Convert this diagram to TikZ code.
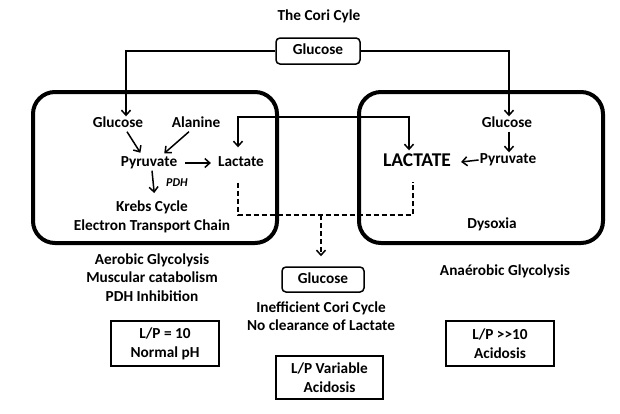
\documentclass[tikz,border=0pt]{standalone}
\usepackage{fontspec}
\setmainfont{Carlito}
\usetikzlibrary{arrows.meta}

\tikzset{
  lbl/.style={font=\bfseries\fontsize{15.3}{18.5}\selectfont, inner sep=1pt, text height=10pt, text depth=3pt},
  txt/.style={font=\bfseries\fontsize{15.3}{18.5}\selectfont, align=center, inner sep=0pt},
  rbox/.style={lbl, draw, rounded corners=4pt, line width=1.5pt},
  cell/.style={draw, line width=2pt, minimum width=108pt, minimum height=45pt, align=center, inner sep=0pt,
    font=\bfseries\fontsize{15.3}{19}\selectfont},
  bigbox/.style={line width=4pt, rounded corners=22pt},
  link/.style={line width=1.5pt},
  arr/.style={link, -{Straight Barb[length=5pt,width=9pt]}},
  dsh/.style={link, dash pattern=on 5pt off 3pt},
}

\begin{document}
\begin{tikzpicture}[x=1pt,y=-1pt]
    \useasboundingbox (0,0) rectangle (620,413);

    % Title and glucose source
    \node[lbl] (title) at (319,17) {The Cori Cyle};
    \node[rbox, minimum width=84pt, minimum height=26pt] (gtop) at (318,51) {Glucose};

    % Compartments
    \draw[bigbox] (33,92) rectangle (277,243);
    \draw[bigbox] (359,92) rectangle (603,243);

    % Left compartment
    \node[lbl] (glcL) at (118,124) {Glucose};
    \node[lbl] (alaL) at (196,124) {Alanine};
    \node[lbl] (pyrL) at (149,163) {Pyruvate};
    \node[lbl] (lacL) at (241,163) {Lactate};
    \node[lbl, font=\bfseries\itshape\fontsize{12}{14}\selectfont] (pdh) at (177,183) {PDH};
    \node[txt] (krb) at (152,217) {Krebs Cycle\\Electron Transport Chain};

    % Right compartment
    \node[lbl] (glcR) at (507,124) {Glucose};
    \node[lbl] (pyrR) at (508,160) {Pyruvate};
    \node[lbl, font=\bfseries\fontsize{19.5}{22}\selectfont] (LAC) at (417,163) {LACTATE};
    \node[lbl] (dys) at (492,225) {Dysoxia};

    % Glucose supply
    \draw[arr] (gtop.west) -| ([xshift=8pt]glcL.north);
    \draw[arr] (gtop.east) -| ([xshift=2pt]glcR.north);

    % Left pathways
    \draw[arr, shorten >=3pt] ([xshift=9pt]glcL.south) -- ([xshift=-7pt]pyrL.north);
    \draw[arr, shorten >=3pt] ([xshift=-7pt]alaL.south) -- ([xshift=13pt]pyrL.north);
    \draw[arr, shorten <=7pt, shorten >=6pt] (pyrL.east) -- (lacL.west);
    \draw[arr, shorten >=8pt] ([xshift=3pt]pyrL.south) -- ([xshift=3pt]krb.north);

    % Right pathways
    \draw[arr] ([xshift=2pt]glcR.south) -- ([xshift=1pt]pyrR.north);
    \draw[arr, shorten >=9pt] (pyrR.west) -- (LAC.east);

    % Lactate exchange
    \coordinate (fbk) at (320,117);
    \draw[link, {Straight Barb[length=5pt,width=9pt]}-{Straight Barb[length=5pt,width=9pt]},
      shorten <=8pt, shorten >=5pt] ([xshift=-3pt]lacL.north) |- (fbk) -| ([xshift=-8pt]LAC.north);

    % Lactate to the liver (dashed)
    \coordinate (drop) at (321,215);
    \draw[dsh, shorten <=12pt, shorten >=11pt] ([xshift=-3pt]lacL.south) |- (drop) -| ([xshift=-4pt]LAC.south);

    % Bottom: liver glucose and notes
    \node[rbox, minimum width=82pt, minimum height=25pt] (gmid) at (323,279.5) {Glucose};
    \draw[dsh, -{Straight Barb[length=5pt,width=9pt]}, shorten >=10pt] (drop) -- ([xshift=-2pt]gmid.north);

    \node[txt] (aer) at (152,277.5) {Aerobic Glycolysis\\Muscular catabolism\\PDH Inhibition};
    \node[txt] (cori) at (321,316) {Inefficient Cori Cycle\\No clearance of Lactate};
    \node[lbl] (anae) at (505,272) {Anaérobic Glycolysis};

    % L/P ratios
    \node[cell] (lp1) at (165,343.5) {L/P = 10\\Normal pH};
    \node[cell, minimum width=107pt, minimum height=43pt] (lp2) at (329.5,377.5) {L/P Variable\\Acidosis};
    \node[cell] (lp3) at (500,343.5) {L/P \symbol{62}\symbol{62}10\\Acidosis};

\end{tikzpicture}
\end{document}
